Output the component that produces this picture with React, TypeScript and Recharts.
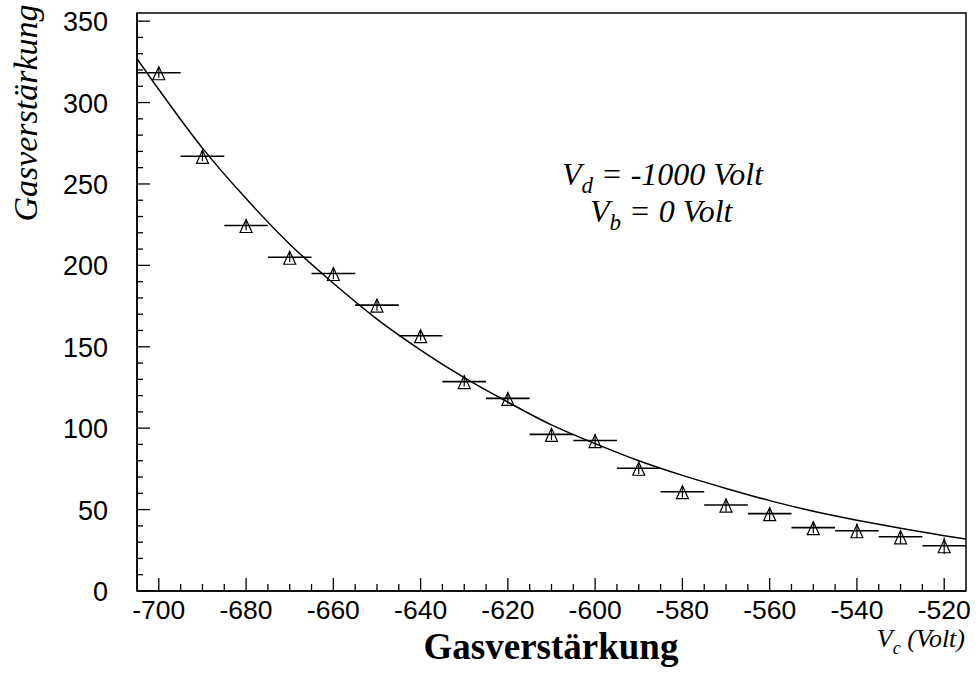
import { ComposedChart, Scatter, Line, XAxis, YAxis, ErrorBar, ReferenceArea } from "recharts"

const voltages = [-700, -690, -680, -670, -660, -650, -640, -630, -620, -610, -600, -590, -580, -570, -560, -550, -540, -530, -520]
const gain = [318.3, 267, 224.5, 205, 195, 175.6, 156.8, 128.6, 118.3, 96.2, 92.4, 75.4, 61, 52.8, 47.5, 38.9, 37, 33.3, 27.8]
const gainErr = [3, 3, 3, 3, 3.5, 3.5, 3, 3, 3.5, 3.5, 4, 3.5, 3.5, 4, 4, 3.5, 4.5, 4, 5]
const binHalfWidth = [5, 5, 5, 5, 5, 5, 5, 5, 5, 5, 5, 5, 5, 5, 5, 5, 5, 5, 5]

const fitVoltages = [-705, -700, -690, -680, -670, -660, -650, -640, -630, -620, -610, -600, -590, -580, -570, -560, -550, -540, -530, -520, -515]
const fitGain = [327, 308, 272, 241, 213, 189, 167, 148, 131, 116, 102, 90.5, 80, 71, 63, 55.5, 49, 43.5, 38.5, 34, 32]

const xTicks = [-700, -695, -690, -685, -680, -675, -670, -665, -660, -655, -650, -645, -640, -635, -630, -625, -620, -615, -610, -605, -600, -595, -590, -585, -580, -575, -570, -565, -560, -555, -550, -545, -540, -535, -530, -525, -520]
const yTicks = [0, 10, 20, 30, 40, 50, 60, 70, 80, 90, 100, 110, 120, 130, 140, 150, 160, 170, 180, 190, 200, 210, 220, 230, 240, 250, 260, 270, 280, 290, 300, 310, 320, 330, 340, 350]

const points = voltages.map((v, i) => ({ x: v, y: gain[i], ex: binHalfWidth[i], ey: gainErr[i] }))
const fit = fitVoltages.map((v, i) => ({ x: v, y: fitGain[i] }))

const sans = "'Liberation Sans', Arial, sans-serif"
const serif = "'Liberation Serif', 'Times New Roman', serif"

const XTick = (props: any) => {
  const { x, y, payload } = props
  const major = payload.value % 20 === 0
  return (
    <g>
      <line x1={x} y1={y} x2={x} y2={y - (major ? 13 : 7)} stroke="#000" strokeWidth={1.3} />
      {major && (
        <text x={x} y={y + 28} textAnchor="middle" fontFamily={sans} fontSize={26.5} fill="#000">
          {payload.value}
        </text>
      )}
    </g>
  )
}

const YTick = (props: any) => {
  const { x, y, payload } = props
  const major = payload.value % 50 === 0
  return (
    <g>
      <line x1={x} y1={y} x2={x + (major ? 13 : 6)} y2={y} stroke="#000" strokeWidth={1.3} />
      {major && (
        <text x={x - 29} y={y + 10} textAnchor="end" fontFamily={sans} fontSize={27} fill="#000">
          {payload.value}
        </text>
      )}
    </g>
  )
}

const Triangle = (props: any) => {
  const { cx, cy } = props
  return (
    <polygon
      points={`${cx},${cy - 6} ${cx - 6},${cy + 7} ${cx + 6},${cy + 7}`}
      fill="none"
      stroke="#000"
      strokeWidth={1.2}
    />
  )
}

export default function App() {
  return (
    <div style={{ position: "absolute", left: 0, top: 0, width: 979, height: 679, background: "#fff" }}>
      <ComposedChart width={979} height={679} margin={{ top: 13, right: 13, bottom: 0, left: 0 }}>
        <XAxis
          type="number"
          dataKey="x"
          domain={[-705, -515]}
          ticks={xTicks}
          interval={0}
          height={88}
          tickSize={0}
          tickMargin={0}
          tickLine={false}
          axisLine={{ stroke: "#000", strokeWidth: 1.5 }}
          tick={<XTick />}
          allowDataOverflow
        />
        <YAxis
          type="number"
          dataKey="y"
          domain={[0, 355]}
          ticks={yTicks}
          interval={0}
          width={137}
          tickSize={0}
          tickMargin={0}
          tickLine={false}
          axisLine={{ stroke: "#000", strokeWidth: 1.5 }}
          tick={<YTick />}
          allowDataOverflow
        />
        <ReferenceArea x1={-705} x2={-515} y1={0} y2={355} fill="none" stroke="#000" strokeWidth={1.5} ifOverflow="visible" />
        <Line
          data={fit}
          dataKey="y"
          type="monotone"
          stroke="#000"
          strokeWidth={1.5}
          dot={false}
          activeDot={false}
          isAnimationActive={false}
        />
        <Scatter data={points} dataKey="y" shape={<Triangle />} isAnimationActive={false}>
          <ErrorBar dataKey="ex" direction="x" width={0} stroke="#000" strokeWidth={1.6} />
          <ErrorBar dataKey="ey" direction="y" width={0} stroke="#000" strokeWidth={1.2} />
        </Scatter>
      </ComposedChart>
      <svg width={979} height={679} style={{ position: "absolute", left: 0, top: 0, pointerEvents: "none" }}>
        <text
          x={37}
          y={113}
          transform="rotate(-90, 37, 113)"
          textAnchor="middle"
          fontFamily={serif}
          fontStyle="italic"
          fontSize={34}
          fill="#000"
        >
          Gasverstärkung
        </text>
        <text x={551} y={659} textAnchor="middle" fontFamily={serif} fontWeight="bold" fontSize={37} fill="#000">
          Gasverstärkung
        </text>
        <text x={965} y={647} textAnchor="end" fontFamily={serif} fontStyle="italic" fontSize={26} fill="#000">
          <tspan>V</tspan>
          <tspan dy={7} fontSize={18}>c</tspan>
          <tspan dy={-7}> (Volt)</tspan>
        </text>
        <text x={562} y={185} fontFamily={serif} fontStyle="italic" fontSize={32} fill="#000">
          <tspan>V</tspan>
          <tspan dy={8} fontSize={23}>d</tspan>
          <tspan dy={-8}> = -1000 Volt</tspan>
        </text>
        <text x={590} y={222} fontFamily={serif} fontStyle="italic" fontSize={32} fill="#000">
          <tspan>V</tspan>
          <tspan dy={8} fontSize={23}>b</tspan>
          <tspan dy={-8}> = 0 Volt</tspan>
        </text>
      </svg>
    </div>
  )
}
